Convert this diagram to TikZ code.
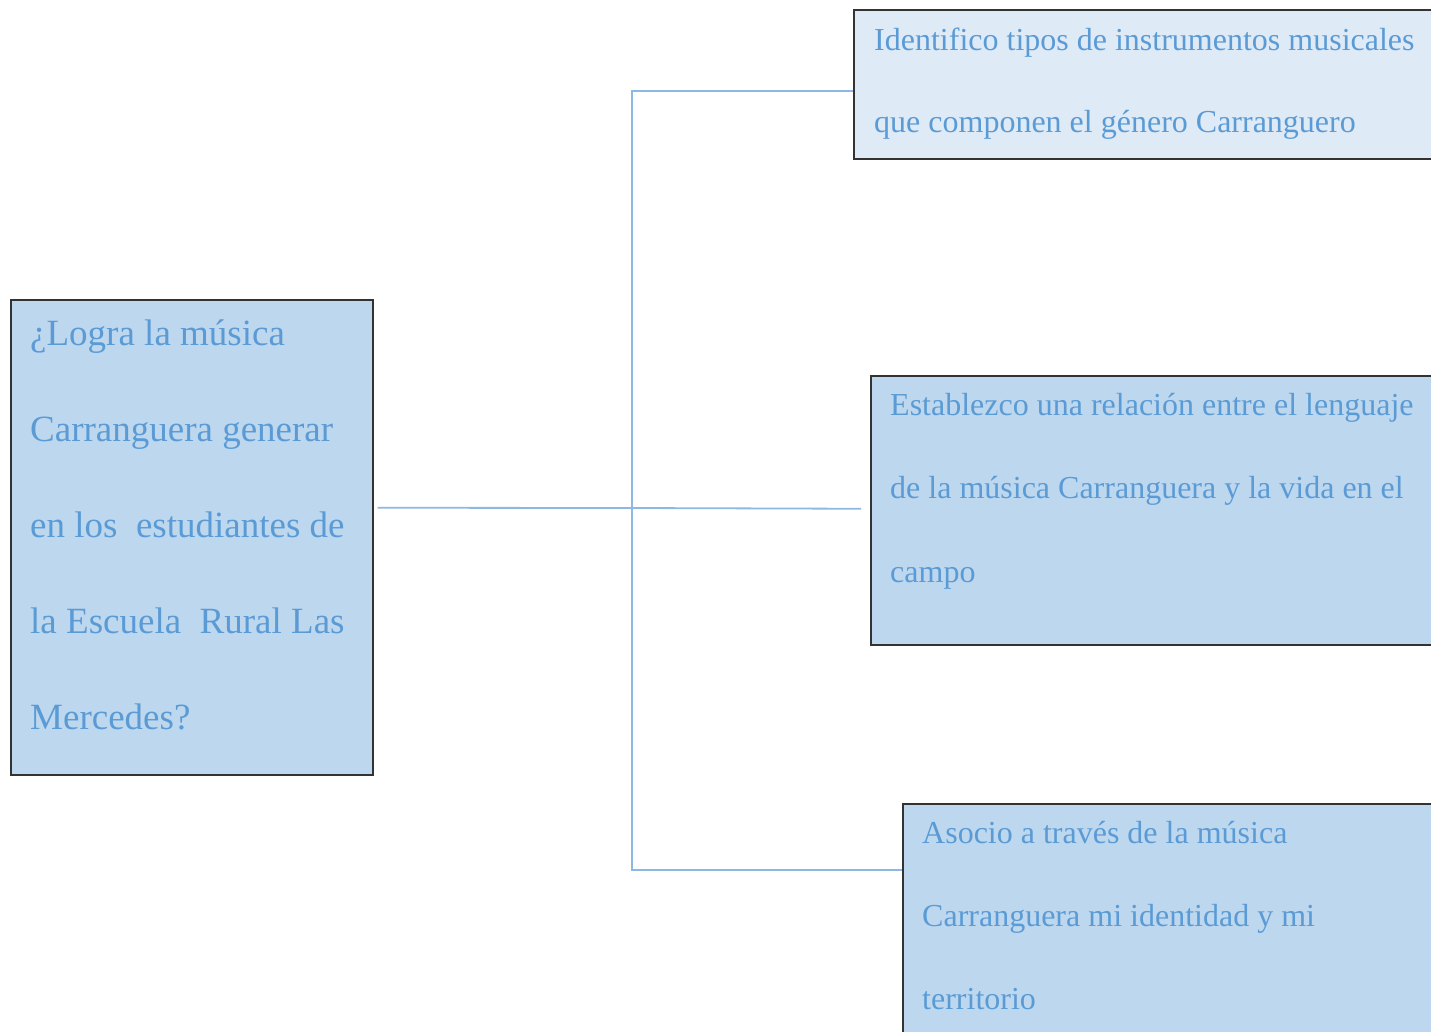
\documentclass[tikz,border=0pt]{standalone}
\usepackage{fontspec}
\setmainfont{Liberation Serif}
\definecolor{boxfill}{HTML}{BDD7EE}
\definecolor{boxlight}{HTML}{DEEAF6}
\definecolor{boxedge}{HTML}{333333}
\definecolor{txtblue}{HTML}{5B9BD5}
\definecolor{linkblue}{HTML}{8DB8E4}
\tikzset{
  box/.style={draw=boxedge, line width=1.5pt, fill=boxfill, rectangle, inner sep=0pt, anchor=north west},
  txt/.style={text=txtblue, anchor=base west, inner sep=0pt, font=\fontsize{32}{38}\selectfont},
  bigtxt/.style={txt, font=\fontsize{37}{44}\selectfont},
  link/.style={draw=linkblue, line width=1.8pt}
}
\begin{document}
\begin{tikzpicture}[x=1pt,y=-1pt]
\clip (0,0) rectangle (1431,1031);
\fill[white] (0,0) rectangle (1431,1031);
% boxes
\node[box, fill=boxlight, minimum width=600pt, minimum height=149pt] (A) at (853,9) {};
\node[box, minimum width=362pt, minimum height=475pt] (B) at (10,299) {};
\node[box, minimum width=600pt, minimum height=269pt] (C) at (870,375) {};
\node[box, minimum width=600pt, minimum height=260pt] (D) at (902,803) {};
% texts
\node[txt] (a1) at (874,50) {Identifico tipos de instrumentos musicales};
\node[txt] (a2) at (874,132) {que componen el género Carranguero};
\node[bigtxt] (b1) at (30,345) {¿Logra la música};
\node[bigtxt] (b2) at (30,441) {Carranguera generar};
\node[bigtxt] (b3) at (30,537) {en los~~estudiantes de};
\node[bigtxt] (b4) at (30,633) {la Escuela~~Rural Las};
\node[bigtxt] (b5) at (30,729) {Mercedes?};
\node[txt] (c1) at (890,415) {Establezco una relación entre el lenguaje};
\node[txt] (c2) at (890,498) {de la música Carranguera y la vida en el};
\node[txt] (c3) at (890,582) {campo};
\node[txt] (d1) at (922,843) {Asocio a través de la música};
\node[txt] (d2) at (922,926) {Carranguera mi identidad y mi};
\node[txt] (d3) at (922,1009) {territorio};
% connectors
\coordinate (j) at (632,508);
\draw[link] ([xshift=4pt,yshift=29.5pt]B.east) -- (j);
\draw[link] (j) |- ([yshift=-6.5pt]A.west);
\draw[link] (j) -- ([xshift=-9pt,yshift=1.5pt]C.west);
\draw[link] (j) |- ([yshift=-67pt]D.north west);
\end{tikzpicture}
\end{document}
